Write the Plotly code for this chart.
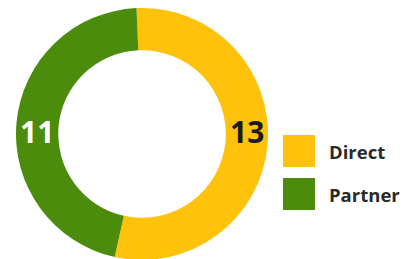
import math
import plotly.graph_objects as go

# ---- data ----
categories = ["Direct", "Partner"]
values = [13, 11]
colors = ["#FFC20A", "#4C8C0C"]
value_font_colors = ["#1b1b1b", "#ffffff"]

# ---- layout geometry (screen pixels, origin top-left) ----
W, H = 415, 259
OFF = 8  # default page body margin shifts the figure by this much
cx, cy, R = 142 - OFF, 134 - OFF, 126
hole = 0.665
rotation = -2.5

fig = go.Figure()
fig.add_trace(go.Pie(
    labels=categories, values=values, hole=hole, sort=False,
    direction="clockwise", rotation=rotation,
    marker=dict(colors=colors, line=dict(width=0)),
    textinfo="none", hoverinfo="label+value", showlegend=False,
    domain=dict(x=[(cx - R) / W, (cx + R) / W],
                y=[max(0, (H - cy - R) / H), min(1, (H - cy + R) / H)]),
))

# value labels on the horizontal center line, on the side of each slice
total = sum(values)
rmid = R * (1 + hole) / 2
start = rotation
annotations = []
for cat, v, fc in zip(categories, values, value_font_colors):
    span = 360 * v / total
    mid = math.radians(start + span / 2)
    start += span
    side = 1 if math.sin(mid) > 0 else -1
    annotations.append(dict(
        x=cx + side * rmid, y=cy - 3, xref="x", yref="y", text=f"<b>{v}</b>",
        showarrow=False, xanchor="center", yanchor="middle",
        font=dict(family="Open Sans", size=30, color=fc),
    ))

# custom legend: large squares with bold labels
leg_x, leg_y0, leg_dy, sw = 299 - OFF, 151 - OFF, 43, 32
leg_y = [leg_y0 + i * leg_dy for i in range(len(categories))]
fig.add_trace(go.Scatter(
    x=[leg_x] * len(categories), y=leg_y, mode="markers",
    marker=dict(symbol="square", size=sw, color=colors, line=dict(width=0)),
    hoverinfo="skip", showlegend=False,
))
for cat, y in zip(categories, leg_y):
    annotations.append(dict(
        x=leg_x + sw / 2 + 12, y=y, xref="x", yref="y", text=f"<b>{cat}</b>",
        showarrow=False, xanchor="left", yanchor="middle",
        font=dict(family="Open Sans", size=18.5, color="#2a2a2a"),
    ))

fig.update_layout(
    width=W, height=H, margin=dict(l=0, r=0, t=0, b=0),
    paper_bgcolor="white", plot_bgcolor="white",
    xaxis=dict(range=[0, W], visible=False, fixedrange=True),
    yaxis=dict(range=[H, 0], visible=False, fixedrange=True),
    annotations=annotations,
)
fig.write_html("out.html")
